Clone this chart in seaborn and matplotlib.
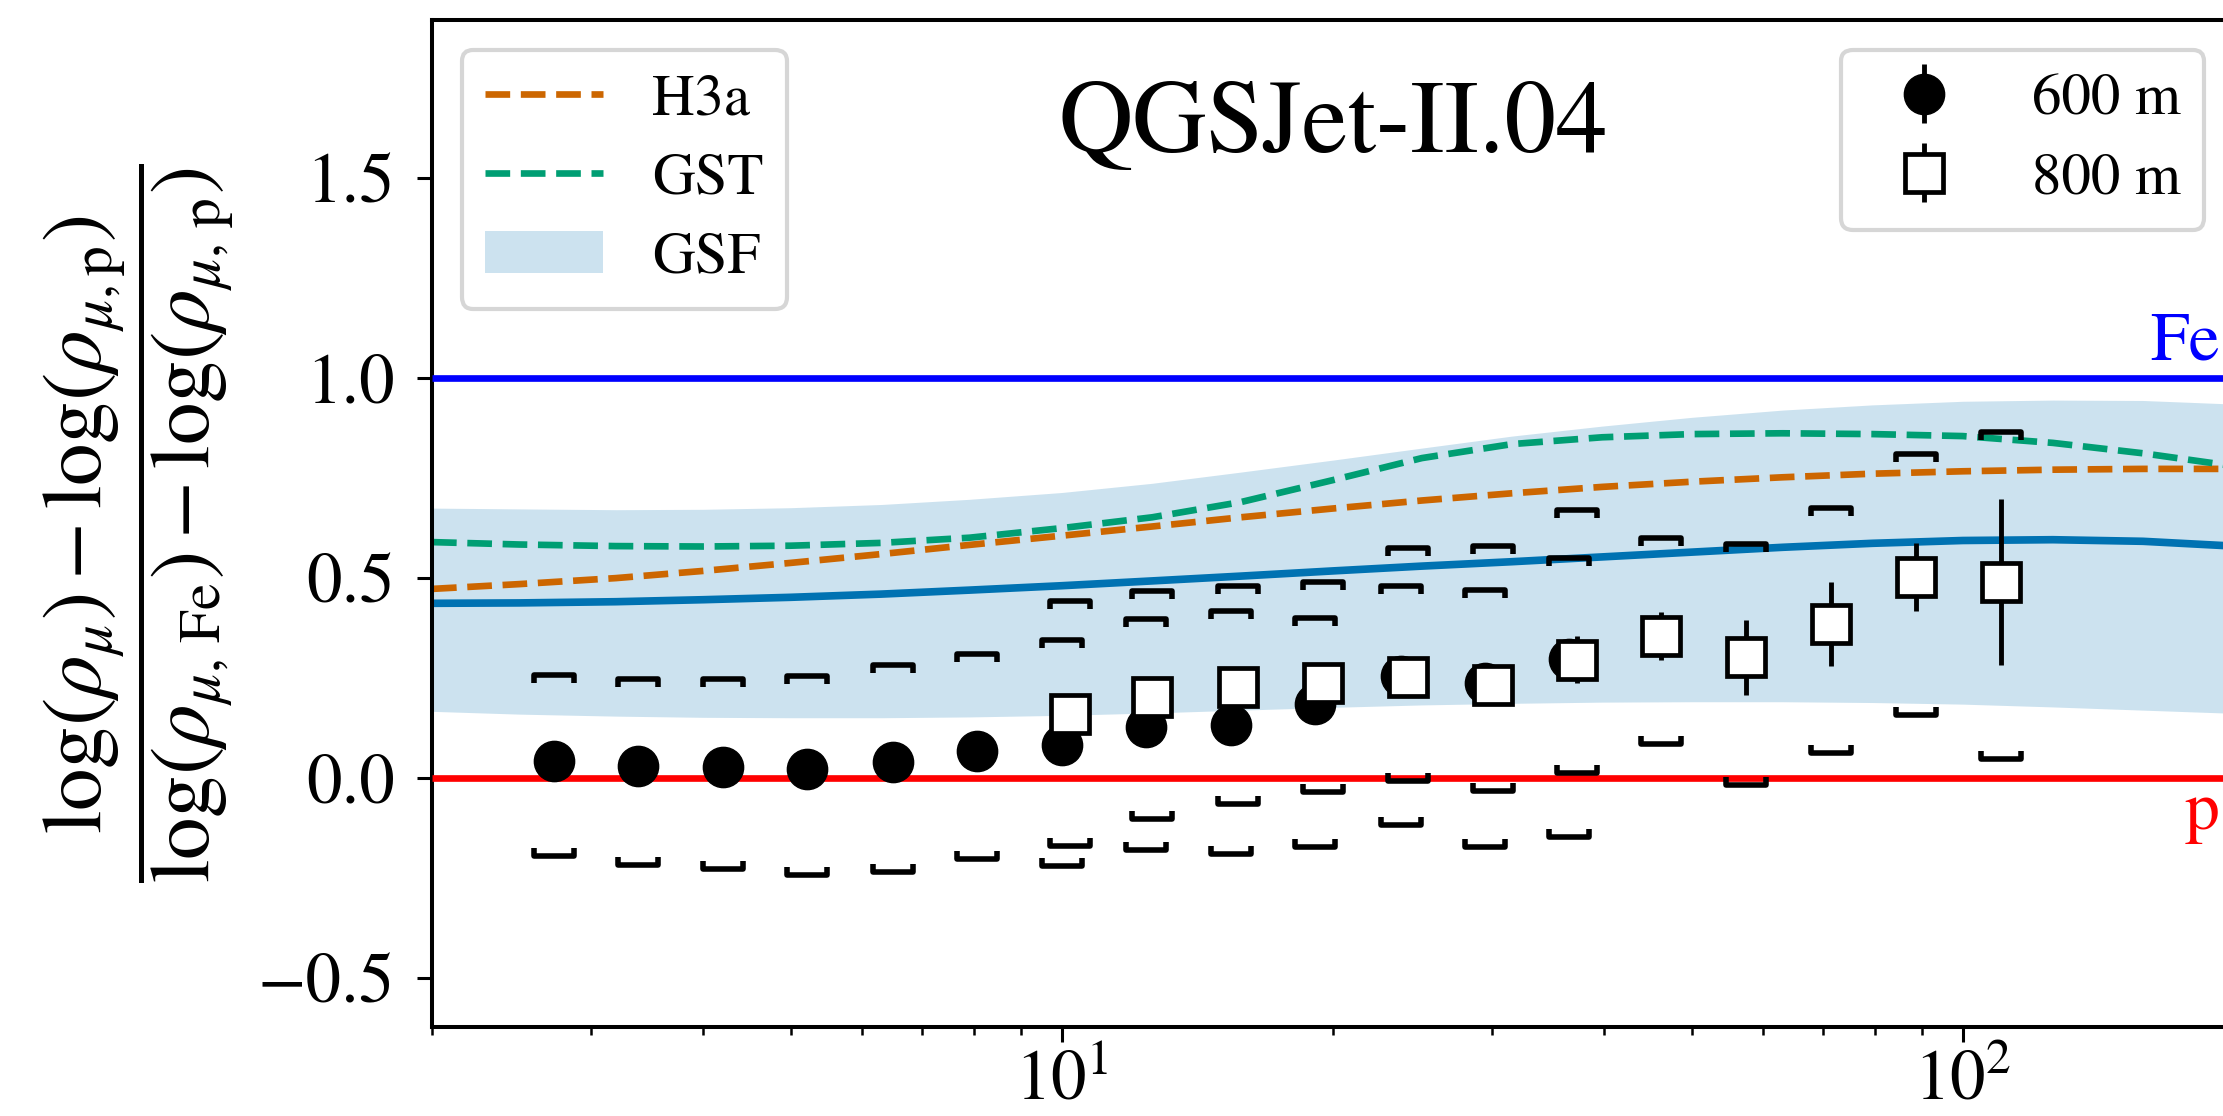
import matplotlib
matplotlib.use("Agg")
import numpy as np
import pandas as pd
import seaborn as sns
import matplotlib.pyplot as plt
from matplotlib.path import Path

# ---------------- data ----------------
# 600 m (filled circles), energy in PeV
E_600 = [2.73, 3.39, 4.21, 5.22, 6.49, 8.05, 10.0, 12.4, 15.4, 19.1, 23.8, 29.5, 36.6]
z_600 = [0.044, 0.030, 0.027, 0.023, 0.041, 0.068, 0.082, 0.129, 0.134, 0.185, 0.255, 0.237, 0.297]
err_600 = [0.008, 0.008, 0.008, 0.008, 0.008, 0.008, 0.008, 0.008, 0.008, 0.010, 0.012, 0.012, 0.015]
sys_hi_600 = [0.257, 0.248, 0.249, 0.255, 0.284, 0.310, 0.346, 0.398, 0.418, 0.400, 0.480, 0.470, 0.550]
sys_lo_600 = [-0.194, -0.217, -0.226, -0.242, -0.235, -0.203, -0.219, -0.179, -0.190, -0.172, -0.116, -0.172, -0.148]

# 800 m (open squares)
E_800 = [10.2, 12.6, 15.7, 19.5, 24.2, 30.1, 37.3, 46.3, 57.5, 71.4, 88.7, 110.2]
z_800 = [0.160, 0.203, 0.227, 0.238, 0.253, 0.232, 0.296, 0.355, 0.302, 0.386, 0.503, 0.491]
err_800 = [0.02, 0.02, 0.02, 0.02, 0.02, 0.02, 0.059, 0.060, 0.094, 0.105, 0.086, 0.207]
sys_hi_800 = [0.442, 0.469, 0.481, 0.490, 0.575, 0.580, 0.670, 0.600, 0.585, 0.675, 0.810, 0.865]
sys_lo_800 = [-0.170, -0.103, -0.064, -0.035, -0.008, -0.032, 0.012, 0.086, -0.017, 0.062, 0.158, 0.047]

# composition model expectations
E_model = [2.0, 2.5, 3.2, 4.0, 5.0, 6.3, 7.9, 10.0, 12.6, 15.8, 20.0, 25.1, 31.6, 39.8,
           50.1, 63.1, 79.4, 100.0, 125.9, 158.5, 200.0]
gsf = [0.437, 0.438, 0.441, 0.446, 0.452, 0.460, 0.470, 0.481, 0.493, 0.505, 0.518, 0.530,
       0.541, 0.553, 0.565, 0.577, 0.587, 0.594, 0.596, 0.592, 0.580]
gsf_hi = [0.675, 0.673, 0.671, 0.672, 0.676, 0.684, 0.697, 0.714, 0.737, 0.765, 0.795, 0.825,
          0.855, 0.880, 0.902, 0.920, 0.933, 0.942, 0.945, 0.944, 0.935]
gsf_lo = [0.167, 0.160, 0.155, 0.152, 0.151, 0.151, 0.153, 0.157, 0.163, 0.170, 0.177, 0.183,
          0.187, 0.190, 0.191, 0.191, 0.189, 0.185, 0.178, 0.170, 0.162]
h3a = [0.473, 0.485, 0.500, 0.518, 0.538, 0.560, 0.583, 0.606, 0.629, 0.652, 0.674, 0.694,
       0.712, 0.728, 0.741, 0.752, 0.761, 0.767, 0.771, 0.773, 0.773]
gst = [0.590, 0.584, 0.580, 0.579, 0.581, 0.588, 0.601, 0.625, 0.652, 0.690, 0.745, 0.800,
       0.835, 0.852, 0.860, 0.862, 0.860, 0.855, 0.838, 0.812, 0.780]

y_ticks = [-0.5, 0.0, 0.5, 1.0, 1.5]

# ---------------- style ----------------
sns.set_theme(style="ticks")
plt.rcParams.update({
    "font.family": ["STIXGeneral", "DejaVu Serif"],
    "mathtext.fontset": "stix",
    "text.color": "black",
    "axes.labelcolor": "black",
    "axes.linewidth": 2.9,
    "axes.edgecolor": "black",
    "xtick.color": "black",
    "ytick.color": "black",
    "xtick.labelcolor": "black",
    "ytick.labelcolor": "black",
    "legend.labelcolor": "black",
    "lines.solid_capstyle": "butt",
})

C_BLUE = "#0072b2"
C_ORANGE = "#cc6600"
C_GREEN = "#009e73"

fig = plt.figure(figsize=(22.23, 11.16), dpi=100)
ax = fig.add_axes([0.19433, 0.07975, 0.8106, 0.90233])

band = ax.fill_between(E_model, gsf_lo, gsf_hi, color=C_BLUE, alpha=0.2, lw=0, zorder=1)
sns.lineplot(x=E_model, y=gsf, color=C_BLUE, lw=5.5, ax=ax, zorder=2)
sns.lineplot(x=E_model, y=h3a, color=C_ORANGE, lw=4.8, linestyle="--", ax=ax, zorder=2)
sns.lineplot(x=E_model, y=gst, color=C_GREEN, lw=4.8, linestyle="--", ax=ax, zorder=2)
line_h3a = ax.lines[-2]
line_gst = ax.lines[-1]

ax.axhline(1.0, color="blue", lw=4.8, zorder=3)
ax.axhline(0.0, color="red", lw=4.8, zorder=3)

# systematic brackets
up_path = Path([(-1, -0.42), (-1, 0), (1, 0), (1, -0.42)],
               [Path.MOVETO, Path.LINETO, Path.LINETO, Path.LINETO])
lo_path = Path([(-1, 0.42), (-1, 0), (1, 0), (1, 0.42)],
               [Path.MOVETO, Path.LINETO, Path.LINETO, Path.LINETO])
bk = dict(ls="none", ms=28.5, mfc="none", mec="black", mew=4.0, zorder=4)
ax.plot(E_600, sys_hi_600, marker=up_path, **bk)
ax.plot(E_600, sys_lo_600, marker=lo_path, **bk)
ax.plot(E_800, sys_hi_800, marker=up_path, **bk)
ax.plot(E_800, sys_lo_800, marker=lo_path, **bk)

eb600 = ax.errorbar(E_600, z_600, yerr=err_600, fmt="o", color="black", ms=29,
                    elinewidth=3.5, capsize=0, zorder=5)
eb800 = ax.errorbar(E_800, z_800, yerr=err_800, fmt="s", mfc="white", mec="black",
                    ecolor="black", mew=3.4, ms=27, elinewidth=3.5, capsize=0, zorder=6)

ax.set_xscale("log")
ax.set_xlim(2, 200)
ax.set_ylim(-0.622, 1.895)
ax.set_yticks(y_ticks)

ax.tick_params(axis="both", which="major", length=10.5, width=2.2, labelsize=51,
               direction="out", bottom=True, left=True, top=False, right=False)
ax.tick_params(axis="x", which="minor", length=5.5, width=1.8, direction="out",
               bottom=True, top=False)
ax.tick_params(axis="x", which="major", pad=6)
ax.tick_params(axis="y", which="major", pad=16)
for s in ax.spines.values():
    s.set_visible(True)
    s.set_linewidth(2.9)

ax.set_ylabel(r"$\dfrac{\log(\rho_{\mu}) - \log(\rho_{\mu,\mathrm{p}})}"
              r"{\log(\rho_{\mu,\,\mathrm{Fe}}) - \log(\rho_{\mu,\,\mathrm{p}})}$",
              fontsize=61, labelpad=15, color="black")
ax.set_xlabel("")

ax.text(20.0, 1.566, "QGSJet-II.04", fontsize=74, ha="center", va="baseline", color="black")
ax.text(10 ** 2.285, 1.046, "Fe", color="blue", fontsize=50, ha="right", va="baseline")
ax.text(10 ** 2.285, -0.127, "p", color="red", fontsize=50, ha="right", va="baseline")

leg_kw = dict(fontsize=42.5, handlelength=2.0, handletextpad=0.83, labelspacing=0.42,
              borderpad=0.4, borderaxespad=0.5, frameon=True, fancybox=True,
              edgecolor="0.8", framealpha=0.8, labelcolor="black")
leg1 = ax.legend([line_h3a, line_gst, band], ["H3a", "GST", "GSF"], loc="upper left", **leg_kw)
leg1.get_frame().set_linewidth(3)
ax.add_artist(leg1)
leg2 = ax.legend([eb600, eb800], ["600 m", "800 m"], loc="upper right", **leg_kw)
leg2.get_frame().set_linewidth(3)

fig.savefig("out.png", dpi=100)
